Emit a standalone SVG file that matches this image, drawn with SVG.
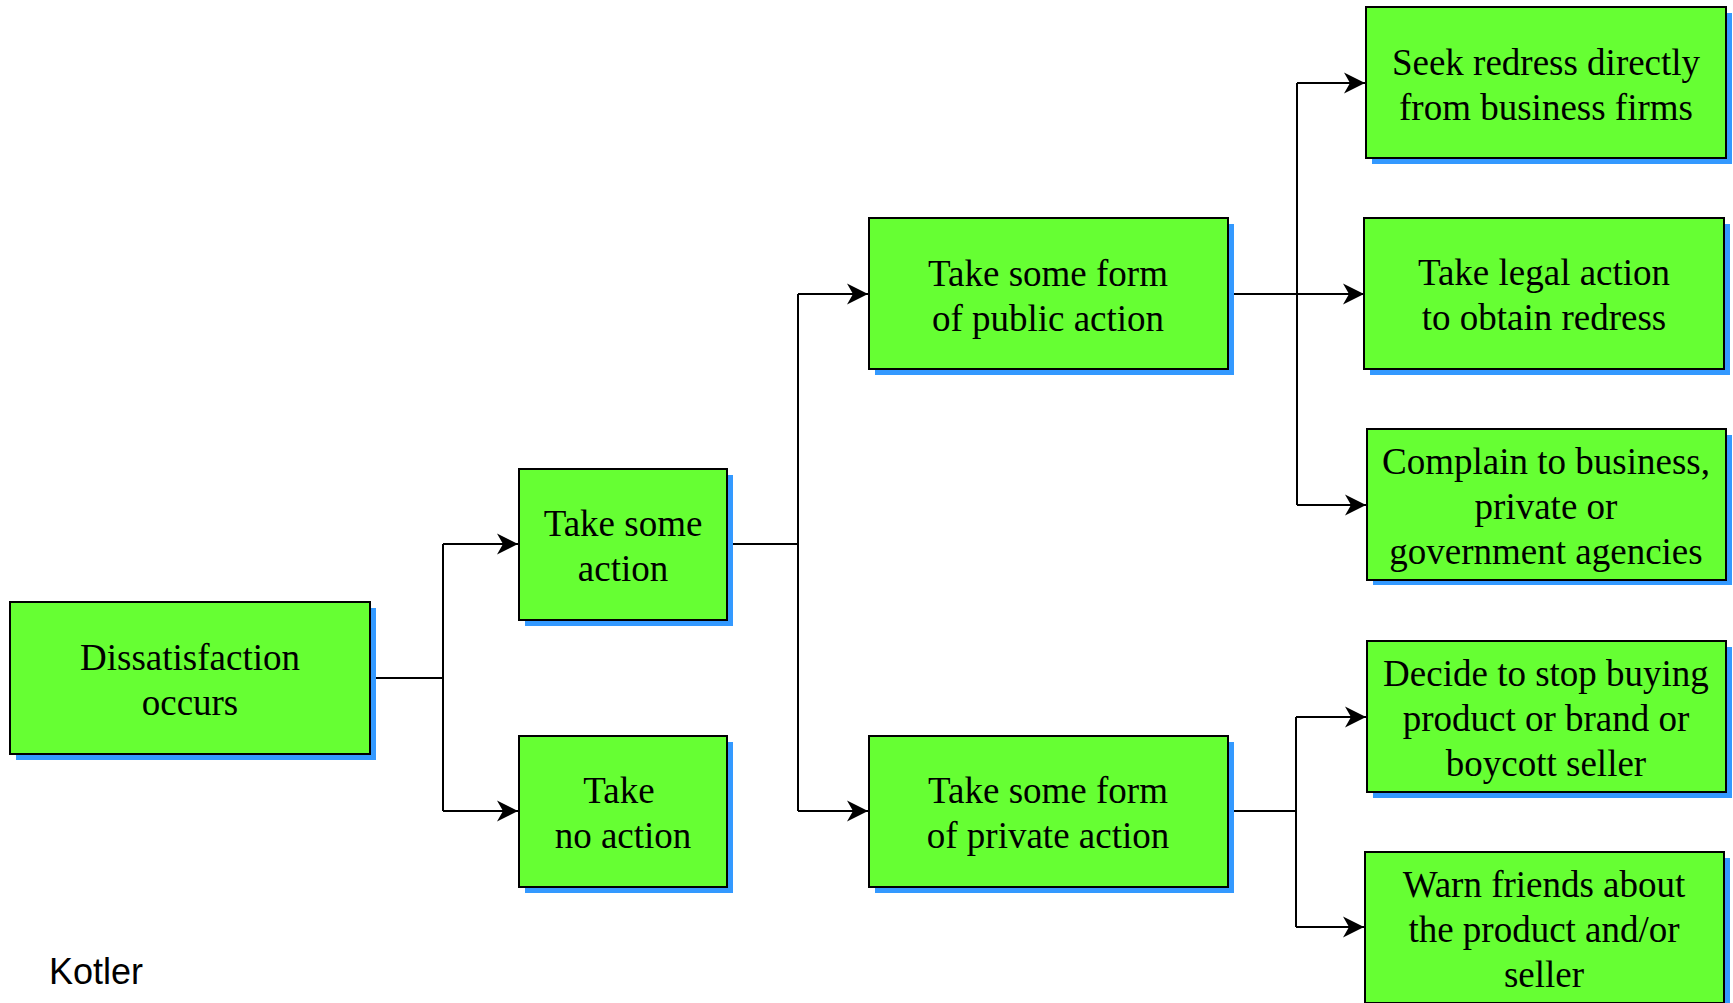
<svg xmlns="http://www.w3.org/2000/svg" width="1733" height="1003" viewBox="0 0 1733 1003">
<style>
.shadow{fill:#3399ff;}
.box{fill:#66ff33;stroke:#000;stroke-width:2;}
.t{font-family:"Liberation Serif","Times New Roman",serif;font-size:37px;fill:#000;text-anchor:middle;}
.c{fill:none;stroke:#000;stroke-width:2;}
.lbl{font-family:"Liberation Sans",Arial,sans-serif;font-size:36px;fill:#000;}
</style>
<defs>
<marker id="ah" markerUnits="userSpaceOnUse" viewBox="-23 -12 24 24" markerWidth="24" markerHeight="24" refX="0" refY="0" orient="auto">
<path d="M0,0 L-21,-10.5 L-15,0 L-21,10.5 Z" fill="#000"/>
</marker>
</defs>
<rect width="1733" height="1003" fill="#fff"/>
<g id="connectors">
<polyline class="c" points="370,678 443,678"/>
<polyline class="c" points="443,544 443,811"/>
<polyline class="c" points="443,544 518,544" marker-end="url(#ah)"/>
<polyline class="c" points="443,811 518,811" marker-end="url(#ah)"/>
<polyline class="c" points="727,544 798,544"/>
<polyline class="c" points="798,294 798,811"/>
<polyline class="c" points="798,294 868,294" marker-end="url(#ah)"/>
<polyline class="c" points="798,811 868,811" marker-end="url(#ah)"/>
<polyline class="c" points="1228,294 1364,294" marker-end="url(#ah)"/>
<polyline class="c" points="1297,83 1297,505"/>
<polyline class="c" points="1297,83 1365,83" marker-end="url(#ah)"/>
<polyline class="c" points="1297,505 1366,505" marker-end="url(#ah)"/>
<polyline class="c" points="1228,811 1296,811"/>
<polyline class="c" points="1296,717 1296,927"/>
<polyline class="c" points="1296,717 1366,717" marker-end="url(#ah)"/>
<polyline class="c" points="1296,927 1364,927" marker-end="url(#ah)"/>
</g>
<g id="dissatisfaction">
<rect class="shadow" x="16" y="608" width="360" height="152"/>
<rect class="box" x="10" y="602" width="360" height="152"/>
<text class="t" x="190" y="670">Dissatisfaction</text>
<text class="t" x="190" y="715">occurs</text>
</g>
<g id="take-some-action">
<rect class="shadow" x="525" y="475" width="208" height="151"/>
<rect class="box" x="519" y="469" width="208" height="151"/>
<text class="t" x="623" y="536">Take some</text>
<text class="t" x="623" y="581">action</text>
</g>
<g id="take-no-action">
<rect class="shadow" x="525" y="742" width="208" height="151"/>
<rect class="box" x="519" y="736" width="208" height="151"/>
<text class="t" x="619" y="803">Take</text>
<text class="t" x="623" y="848">no action</text>
</g>
<g id="public-action">
<rect class="shadow" x="875" y="224" width="359" height="151"/>
<rect class="box" x="869" y="218" width="359" height="151"/>
<text class="t" x="1048" y="286">Take some form</text>
<text class="t" x="1048" y="331">of public action</text>
</g>
<g id="private-action">
<rect class="shadow" x="875" y="742" width="359" height="151"/>
<rect class="box" x="869" y="736" width="359" height="151"/>
<text class="t" x="1048" y="803">Take some form</text>
<text class="t" x="1048" y="848">of private action</text>
</g>
<g id="seek-redress">
<rect class="shadow" x="1372" y="13" width="360" height="151"/>
<rect class="box" x="1366" y="7" width="360" height="151"/>
<text class="t" x="1546" y="75">Seek redress directly</text>
<text class="t" x="1546" y="120">from business firms</text>
</g>
<g id="legal-action">
<rect class="shadow" x="1370" y="224" width="360" height="151"/>
<rect class="box" x="1364" y="218" width="360" height="151"/>
<text class="t" x="1544" y="285">Take legal action</text>
<text class="t" x="1544" y="330">to obtain redress</text>
</g>
<g id="complain">
<rect class="shadow" x="1373" y="435" width="359" height="150"/>
<rect class="box" x="1367" y="429" width="359" height="151"/>
<text class="t" x="1546" y="474">Complain to business,</text>
<text class="t" x="1546" y="519">private or</text>
<text class="t" x="1546" y="564">government agencies</text>
</g>
<g id="stop-buying">
<rect class="shadow" x="1373" y="647" width="359" height="151"/>
<rect class="box" x="1367" y="641" width="359" height="151"/>
<text class="t" x="1546" y="686">Decide to stop buying</text>
<text class="t" x="1546" y="731">product or brand or</text>
<text class="t" x="1546" y="776">boycott seller</text>
</g>
<g id="warn-friends">
<rect class="shadow" x="1371" y="858" width="359" height="151"/>
<rect class="box" x="1365" y="852" width="359" height="151"/>
<text class="t" x="1544" y="897">Warn friends about</text>
<text class="t" x="1544" y="942">the product and/or</text>
<text class="t" x="1544" y="987">seller</text>
</g>
<text class="lbl" x="49" y="984">Kotler</text>
</svg>
